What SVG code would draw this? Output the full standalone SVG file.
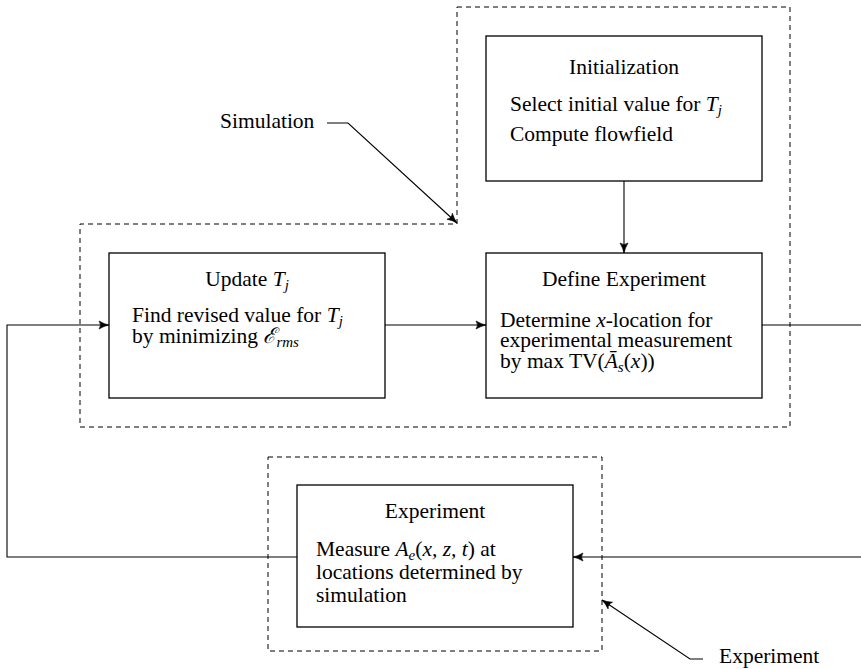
<svg xmlns="http://www.w3.org/2000/svg" width="861" height="669" viewBox="0 0 861 669">
<style>
  .box{fill:none;stroke:#000;stroke-width:1.3}
  .dash{fill:none;stroke:#000;stroke-width:1;stroke-dasharray:5,4}
  .ln{fill:none;stroke:#000;stroke-width:1.1}
  text{font-family:"Liberation Serif","Times New Roman",serif;font-size:21.5px;fill:#000}
  .c{text-anchor:middle}
  .m{font-style:italic}
  .s{font-style:italic;font-size:15px}
</style>
<defs>
  <marker id="arr" viewBox="0 0 12 10" refX="11" refY="5" markerWidth="12" markerHeight="10" markerUnits="userSpaceOnUse" orient="auto">
    <path d="M1,1 Q6,4 11,5 Q6,6 1,9 Q4,5 1,1 Z" fill="#000" stroke="#000" stroke-width="0.6"/>
  </marker>
</defs>
<g id="regions">
  <path class="dash" d="M457,7 H790 V427 H80 V224 H457 Z"/>
  <rect class="dash" x="268" y="457" width="334" height="194"/>
</g>
<g id="connectors">
  <polyline class="ln" points="297,557 7,557 7,325 109,325" marker-end="url(#arr)"/>
  <line class="ln" x1="385" y1="325" x2="486" y2="325" marker-end="url(#arr)"/>
  <line class="ln" x1="762" y1="325" x2="861" y2="325"/>
  <line class="ln" x1="861" y1="557" x2="573" y2="557" marker-end="url(#arr)"/>
  <line class="ln" x1="624" y1="181" x2="624" y2="253" marker-end="url(#arr)"/>
  <polyline class="ln" points="327,123 348,123 457,223" marker-end="url(#arr)"/>
  <polyline class="ln" points="703,659 690,659 602,600" marker-end="url(#arr)"/>
</g>
<g id="init">
  <rect class="box" x="486" y="36" width="276" height="145"/>
  <text class="c" x="624" y="74">Initialization</text>
  <text x="510" y="111">Select initial value for <tspan class="m">T</tspan><tspan class="s" dy="4">j</tspan></text>
  <text x="510" y="141">Compute flowfield</text>
</g>
<g id="update">
  <rect class="box" x="109" y="253" width="276" height="145"/>
  <text class="c" x="247" y="286">Update <tspan class="m">T</tspan><tspan class="s" dy="4">j</tspan></text>
  <text x="132" y="322">Find revised value for <tspan class="m">T</tspan><tspan class="s" dy="4">j</tspan></text>
  <text x="132" y="343">by minimizing <tspan class="m">ℰ</tspan><tspan class="s" dy="4">rms</tspan></text>
</g>
<g id="define">
  <rect class="box" x="486" y="253" width="276" height="145"/>
  <text class="c" x="624" y="286">Define Experiment</text>
  <text x="500" y="327">Determine <tspan class="m">x</tspan>-location for</text>
  <text x="500" y="347">experimental measurement</text>
  <text x="500" y="368">by max TV(<tspan class="m">Ā</tspan><tspan class="s" dy="4">s</tspan><tspan dy="-4">(</tspan><tspan class="m">x</tspan>))</text>
</g>
<g id="experiment">
  <rect class="box" x="297" y="485" width="276" height="142"/>
  <text class="c" x="435" y="518">Experiment</text>
  <text x="316" y="556">Measure <tspan class="m">A</tspan><tspan class="s" dy="4">e</tspan><tspan dy="-4">(</tspan><tspan class="m">x, z, t</tspan>) at</text>
  <text x="316" y="579">locations determined by</text>
  <text x="316" y="602">simulation</text>
</g>
<g id="labels">
  <text x="220" y="128">Simulation</text>
  <text x="719" y="663">Experiment</text>
</g>
</svg>
